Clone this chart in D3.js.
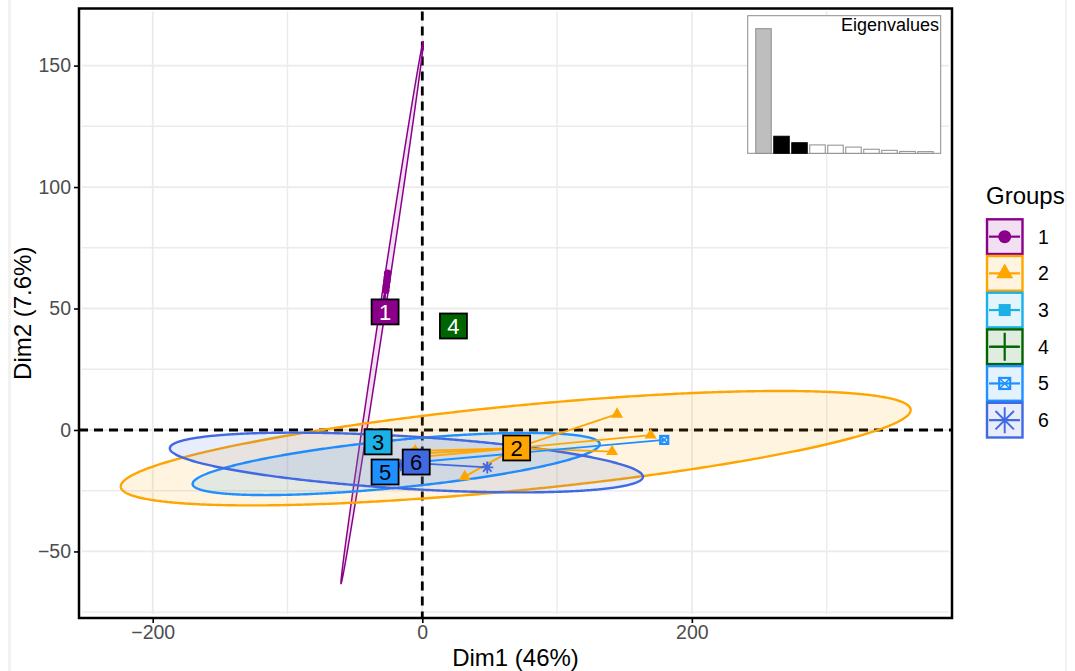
<!DOCTYPE html>
<meta charset="utf-8">
<style>
  body { margin: 0; background: #fff; }
  text { font-family: "Liberation Sans", Arial, sans-serif; }
</style>
<script src="https://d3js.org/d3.v7.min.js"></script>
<svg id="chart" width="1075" height="671"></svg>
<script>

  // group means (centre of ellipse, origin of the star segments)
  var groups = ["1", "2", "3", "4", "5", "6"]
  var meanX = [-29.8, 69.3, -31, 23, -19.4, -11.8]
  var meanY = [48.3, -7.5, -6, 43, -14, -13.4]

  // repelled label positions
  var labelX = [-27.6, 70, -32.8, 23.1, -27.6, -4.5]
  var labelY = [48.6, -7.4, -4.9, 42.8, -17.3, -13.2]

  // ellipse spread: half width, half height, correlation (null = no ellipse)
  var ellSX = [30.57, 293, null, null, 151, 175.5]
  var ellSY = [111.55, 23.55, null, null, 12.8, 12.3]
  var ellR = [0.9976, 0.669, null, null, 0.64, -0.476]

  // individuals
  var pointGroup = [0, 0, 0, 0, 0, 1, 1, 1, 1, 1, 1, 1, 2, 2, 2, 3, 4, 4, 4, 5, 5, 5]
  var pointX = [-25.7, -26.0, -26.3, -26.7, -27.1, 144.5, 169.4, 140.8, 31.5, -5.2, -7.4, -8.9, -33, -30.5, -29.5, 23, 179.5, -28, -25, 48.2, -9, -16]
  var pointY = [64.5, 62.8, 61.2, 59.3, 57.5, 6.5, -2.1, -8.9, -19.2, -8.6, -9.8, -11.5, -4.5, -6.2, -7.3, 43, -4.1, -16.5, -19, -15.4, -12, -14.5]

  // eigenvalues (% of variance) for the inset
  var eigen = [46, 6.3, 3.9, 3.1, 3.0, 2.3, 1.5, 1.1, 0.7, 0.6]

  var xTicks = [-200, 0, 200]
  var yTicks = [-50, 0, 50, 100, 150]
  var xMinor = [-100, 100, 300]
  var yMinor = [-75, -25, 25, 75, 125]

  var colors = ["#8B008B", "#FFA500", "#1BB0E6", "#006400", "#1E90FF", "#4169E1"]
  var labelInk = ["white", "black", "black", "white", "black", "black"]
  var shapes = ["circle", "triangle", "square", "plus", "squarecross", "asterisk"]

  var pLeft = 79, pRight = 952, pTop = 8.5, pBottom = 618

  var x = d3.scaleLinear().domain([-254.7, 393]).range([pLeft, pRight])
  var y = d3.scaleLinear().domain([-77.4, 173.5]).range([pBottom, pTop])

  var svg = d3.select("#chart")

  svg.append("rect").attr("width", 1075).attr("height", 671).attr("fill", "white")
  svg.append("line").attr("x1", 9.5).attr("x2", 9.5).attr("y1", 0).attr("y2", 671)
    .attr("stroke", "#F2F2F2").attr("stroke-width", 3)
  svg.append("line").attr("x1", 1066).attr("x2", 1066).attr("y1", 0).attr("y2", 671)
    .attr("stroke", "#E6E6E6").attr("stroke-width", 1)

  // grid
  var grid = svg.append("g")
  grid.selectAll(".vmin").data(xMinor.filter(function(d) { return d > x.domain()[0] && d < x.domain()[1] }))
    .enter().append("line")
      .attr("x1", function(d) { return x(d) }).attr("x2", function(d) { return x(d) })
      .attr("y1", pTop + 3).attr("y2", pBottom - 4)
      .attr("stroke", "#EBEBEB").attr("stroke-width", 1.4)
  grid.selectAll(".hmin").data(yMinor.filter(function(d) { return d > y.domain()[0] && d < y.domain()[1] }))
    .enter().append("line")
      .attr("y1", function(d) { return y(d) }).attr("y2", function(d) { return y(d) })
      .attr("x1", pLeft + 3).attr("x2", pRight - 3)
      .attr("stroke", "#EBEBEB").attr("stroke-width", 1.4)
  grid.selectAll(".vmaj").data(xTicks)
    .enter().append("line")
      .attr("x1", function(d) { return x(d) }).attr("x2", function(d) { return x(d) })
      .attr("y1", pTop + 3).attr("y2", pBottom - 4)
      .attr("stroke", "#EBEBEB").attr("stroke-width", 1.8)
  grid.selectAll(".hmaj").data(yTicks)
    .enter().append("line")
      .attr("y1", function(d) { return y(d) }).attr("y2", function(d) { return y(d) })
      .attr("x1", pLeft + 3).attr("x2", pRight - 3)
      .attr("stroke", "#EBEBEB").attr("stroke-width", 1.8)

  // zero lines
  svg.append("line").attr("x1", x(0)).attr("x2", x(0)).attr("y1", pTop + 3).attr("y2", pBottom)
    .attr("stroke", "black").attr("stroke-width", 2.8).attr("stroke-dasharray", "9,6")
  svg.append("line").attr("y1", y(0)).attr("y2", y(0)).attr("x1", pLeft).attr("x2", pRight)
    .attr("stroke", "black").attr("stroke-width", 2.8).attr("stroke-dasharray", "9,6")

  // ellipses
  function ellipsePoints(i) {
    var pts = []
    var k = Math.sqrt(1 - ellR[i] * ellR[i])
    for (var a = 0; a < 360; a += 0.5) {
      var t = a * Math.PI / 180
      pts.push([x(meanX[i] + ellSX[i] * Math.cos(t)),
                y(meanY[i] + ellSY[i] * (ellR[i] * Math.cos(t) + k * Math.sin(t)))])
    }
    return pts
  }
  var ellLine = d3.line().curve(d3.curveLinearClosed)

  svg.selectAll("path.ellipse")
    .data(groups.map(function(d, i) { return i }).filter(function(i) { return ellSX[i] != null }))
    .enter().append("path")
      .attr("class", "ellipse")
      .attr("d", function(i) { return ellLine(ellipsePoints(i)) })
      .attr("fill", function(i) { return colors[i] })
      .attr("fill-opacity", 0.12)
      .attr("stroke", function(i) { return colors[i] })
      .attr("stroke-width", function(i) { return i == 0 ? 1.5 : 2.4 })

  // star segments
  svg.selectAll("line.star")
    .data(pointX.map(function(d, i) { return i }))
    .enter().append("line")
      .attr("x1", function(i) { return x(meanX[pointGroup[i]]) })
      .attr("y1", function(i) { return y(meanY[pointGroup[i]]) })
      .attr("x2", function(i) { return x(pointX[i]) })
      .attr("y2", function(i) { return y(pointY[i]) })
      .attr("stroke", function(i) { return colors[pointGroup[i]] })
      .attr("stroke-width", 1.8)

  function drawShape(g, shape, cx, cy, s, color) {
    if (shape == "circle") {
      g.append("circle").attr("cx", cx).attr("cy", cy).attr("r", s / 2).attr("fill", color)
    } else if (shape == "triangle") {
      var h = s / Math.sqrt(3)
      g.append("path")
        .attr("d", "M" + cx + "," + (cy - h) + "L" + (cx + s / 2) + "," + (cy + h / 2) +
                   "L" + (cx - s / 2) + "," + (cy + h / 2) + "Z")
        .attr("fill", color)
    } else if (shape == "square") {
      g.append("rect").attr("x", cx - s / 2).attr("y", cy - s / 2)
        .attr("width", s).attr("height", s).attr("fill", color)
    } else if (shape == "plus") {
      g.append("path")
        .attr("d", "M" + (cx - s / 2) + "," + cy + "H" + (cx + s / 2) +
                   "M" + cx + "," + (cy - s / 2) + "V" + (cy + s / 2))
        .attr("stroke", color).attr("stroke-width", 2.2).attr("fill", "none")
    } else if (shape == "squarecross") {
      var q = s / 2 - 1
      g.append("rect").attr("x", cx - q).attr("y", cy - q)
        .attr("width", 2 * q).attr("height", 2 * q)
        .attr("fill", "none").attr("stroke", color).attr("stroke-width", 2.2)
      g.append("path")
        .attr("d", "M" + (cx - q) + "," + (cy - q) + "L" + (cx + q) + "," + (cy + q) +
                   "M" + (cx + q) + "," + (cy - q) + "L" + (cx - q) + "," + (cy + q))
        .attr("stroke", color).attr("stroke-width", 1.6)
    } else if (shape == "asterisk") {
      var r = s / 2, d = r * 0.7071
      g.append("path")
        .attr("d", "M" + (cx - r) + "," + cy + "H" + (cx + r) +
                   "M" + cx + "," + (cy - r) + "V" + (cy + r) +
                   "M" + (cx - d) + "," + (cy - d) + "L" + (cx + d) + "," + (cy + d) +
                   "M" + (cx + d) + "," + (cy - d) + "L" + (cx - d) + "," + (cy + d))
        .attr("stroke", color).attr("stroke-width", 1.9).attr("fill", "none")
    }
  }

  var plotSize = { circle: 7.5, triangle: 12, square: 9, plus: 12, squarecross: 10, asterisk: 12 }
  var pts = svg.append("g")
  pointX.forEach(function(d, i) {
    var g = pointGroup[i]
    drawShape(pts, shapes[g], x(pointX[i]), y(pointY[i]), plotSize[shapes[g]], colors[g])
  })

  // mean labels
  var labs = svg.selectAll("g.lab")
    .data(groups)
    .enter().append("g")
      .attr("transform", function(d, i) { return "translate(" + x(labelX[i]) + "," + y(labelY[i]) + ")" })
  labs.append("rect")
    .attr("x", -13.5).attr("y", -12.5).attr("width", 27).attr("height", 25)
    .attr("fill", function(d, i) { return colors[i] })
    .attr("stroke", "black").attr("stroke-width", 1.8)
  labs.append("text")
    .attr("text-anchor", "middle").attr("dy", "0.36em")
    .style("font-size", "22px")
    .attr("fill", function(d, i) { return labelInk[i] })
    .text(function(d) { return d })

  // axes
  var xAxis = svg.append("g").attr("transform", "translate(0," + pBottom + ")")
    .call(d3.axisBottom(x).tickValues(xTicks).tickSize(5).tickPadding(2))
  var yAxis = svg.append("g").attr("transform", "translate(" + pLeft + ",0)")
    .call(d3.axisLeft(y).tickValues(yTicks).tickSize(5).tickPadding(3))
  ;[xAxis, yAxis].forEach(function(a) {
    a.select(".domain").remove()
    a.selectAll("line").attr("stroke", "black").attr("stroke-width", 1.6)
    a.selectAll("text").attr("fill", "#4D4D4D").style("font-size", "19.5px")
      .style("font-family", "'Liberation Sans', Arial, sans-serif")
  })

  svg.append("rect").attr("x", pLeft).attr("y", pTop)
    .attr("width", pRight - pLeft).attr("height", pBottom - pTop)
    .attr("fill", "none").attr("stroke", "black").attr("stroke-width", 2.5)

  svg.append("text").attr("x", (pLeft + pRight) / 2).attr("y", 666)
    .attr("text-anchor", "middle").style("font-size", "24px").text("Dim1 (46%)")
  svg.append("text").attr("transform", "translate(31," + ((pTop + pBottom) / 2) + ") rotate(-90)")
    .attr("text-anchor", "middle").style("font-size", "24px").text("Dim2 (7.6%)")

  // eigenvalue inset
  var inset = svg.append("g")
  inset.append("rect").attr("x", 747.7).attr("y", 15.7).attr("width", 193).attr("height", 137.6)
    .attr("fill", "white").attr("stroke", "#8C8C8C").attr("stroke-width", 1)
  var bx = d3.scaleBand().domain(eigen.map(function(d, i) { return i }))
    .range([754.5, 934.5]).paddingInner(0.14).paddingOuter(0.07)
  var by = d3.scaleLinear().domain([0, 46]).range([153.3, 28.7])
  inset.selectAll("rect.bar").data(eigen).enter().append("rect")
    .attr("x", function(d, i) { return bx(i) })
    .attr("y", function(d) { return by(d) })
    .attr("width", bx.bandwidth())
    .attr("height", function(d) { return by(0) - by(d) })
    .attr("fill", function(d, i) { return i == 0 ? "#BEBEBE" : (i < 3 ? "black" : "white") })
    .attr("stroke", function(d, i) { return i == 0 ? "#8C8C8C" : (i < 3 ? "black" : "#8C8C8C") })
    .attr("stroke-width", 1)
  inset.append("text").attr("x", 939).attr("y", 31).attr("text-anchor", "end")
    .style("font-size", "18px").text("Eigenvalues")

  // legend
  var legend = svg.append("g")
  legend.append("text").attr("x", 986).attr("y", 204).style("font-size", "24px").text("Groups")
  var keyH = 36.7
  var ls = { circle: 13, triangle: 17, square: 12, plus: 28, squarecross: 13, asterisk: 26 }
  groups.forEach(function(d, i) {
    var ky = 218.3 + i * keyH
    var k = legend.append("g")
    k.append("rect").attr("x", 987).attr("y", ky + 1).attr("width", 35.5).attr("height", keyH - 2)
      .attr("fill", colors[i]).attr("fill-opacity", 0.12)
      .attr("stroke", colors[i]).attr("stroke-width", 2.4)
    k.append("line").attr("x1", 989).attr("x2", 1020).attr("y1", ky + keyH / 2).attr("y2", ky + keyH / 2)
      .attr("stroke", colors[i]).attr("stroke-width", 2.2)
    drawShape(k, shapes[i], 1004.7, ky + keyH / 2, ls[shapes[i]], colors[i])
    k.append("text").attr("x", 1038).attr("y", ky + keyH / 2).attr("dy", "0.36em")
      .style("font-size", "19.5px").text(d)
  })

</script>
